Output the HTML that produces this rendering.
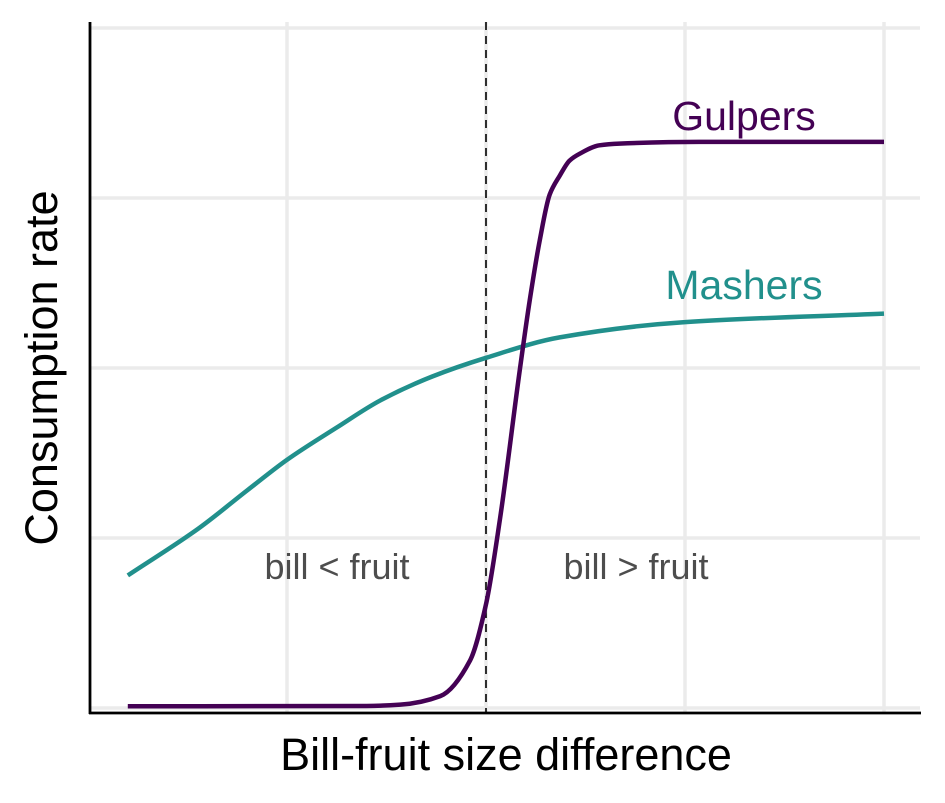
<!DOCTYPE html>
<html><head><meta charset="utf-8"><style>
body{margin:0;background:#fff}
svg{display:block;font-family:"Liberation Sans",Arial,sans-serif}
</style></head><body>
<svg id="chart" width="945" height="803" viewBox="0 0 945 803">
<g id="grid"></g>
<line x1="486" y1="22" x2="486" y2="713" stroke="#000" stroke-width="1.6" stroke-dasharray="8,6"/>
<g id="series"></g>
<line x1="90" y1="22" x2="90" y2="714" stroke="#000" stroke-width="2.8"/>
<line x1="89" y1="713" x2="921" y2="713" stroke="#000" stroke-width="2.8"/>
<text x="744" y="130" font-size="41" fill="#440154" text-anchor="middle">Gulpers</text>
<text x="744" y="299" font-size="41" fill="#21908c" text-anchor="middle">Mashers</text>
<text x="337" y="579" font-size="36" fill="#4d4d4d" text-anchor="middle">bill &lt; fruit</text>
<text x="636" y="579" font-size="36" fill="#4d4d4d" text-anchor="middle">bill &gt; fruit</text>
<text x="506" y="770" font-size="45" fill="#000" text-anchor="middle">Bill-fruit size difference</text>
<text x="0" y="0" transform="translate(57,368) rotate(-90)" font-size="45" fill="#000" text-anchor="middle">Consumption rate</text>
</svg>
<script>
const xGridTicks=[-1,0,1,2];
const yGridTicks=[0,1,2,3,4];
const gulpersX=[-1.8,-0.6,-0.43,-0.23,-0.08,0,0.07,0.17,0.22,0.27,0.32,0.37,0.42,0.47,0.57,0.67,1.07,2.0];
const gulpersY=[0.01,0.012,0.02,0.07,0.28,0.61,1.11,1.99,2.4,2.75,3.02,3.13,3.22,3.26,3.31,3.32,3.33,3.33];
const mashersX=[-1.8,-1.44,-1.2,-1,-0.75,-0.53,-0.27,0,0.37,1,2];
const mashersY=[0.78,1.06,1.28,1.46,1.65,1.81,1.95,2.06,2.18,2.27,2.32];
function sx(v){return 486+v*199;}
function sy(v){return 708-v*170;}
const NS="http://www.w3.org/2000/svg";
const grid=document.getElementById('grid');
xGridTicks.forEach(function(t){
  const l=document.createElementNS(NS,'line');
  
  
  l.setAttribute('x1',sx(t));l.setAttribute('x2',sx(t));l.setAttribute('y1',22);l.setAttribute('y2',713);
  l.setAttribute('stroke','#ebebeb');l.setAttribute('stroke-width','3.5');grid.appendChild(l);
});
yGridTicks.forEach(function(t){
  const l=document.createElementNS(NS,'line');
  
  
  l.setAttribute('x1',90);l.setAttribute('x2',920);l.setAttribute('y1',sy(t));l.setAttribute('y2',sy(t));
  l.setAttribute('stroke','#ebebeb');l.setAttribute('stroke-width','3.5');grid.appendChild(l);
});
function pathFor(xs,ys){
  const px=xs.map(sx), py=ys.map(sy), n=px.length;
  const d=[],m=new Array(n);
  for(let i=0;i<n-1;i++)d.push((py[i+1]-py[i])/(px[i+1]-px[i]));
  m[0]=d[0];m[n-1]=d[n-2];
  for(let i=1;i<n-1;i++){
    if(d[i-1]*d[i]<=0)m[i]=0;
    else{const h0=px[i]-px[i-1],h1=px[i+1]-px[i];const w1=2*h1+h0,w2=h1+2*h0;m[i]=(w1+w2)/(w1/d[i-1]+w2/d[i]);}
  }
  let s='M'+px[0]+','+py[0];
  for(let i=0;i<n-1;i++){
    const h=(px[i+1]-px[i])/3;
    s+=' C'+(px[i]+h)+','+(py[i]+m[i]*h)+' '+(px[i+1]-h)+','+(py[i+1]-m[i+1]*h)+' '+px[i+1]+','+py[i+1];
  }
  return s;
}
const series=document.getElementById('series');
const m=document.createElementNS(NS,'path');


m.setAttribute('d',pathFor(mashersX,mashersY));m.setAttribute('fill','none');m.setAttribute('stroke','#21908c');m.setAttribute('stroke-width','4.5');
series.appendChild(m);
const g=document.createElementNS(NS,'path');


g.setAttribute('d',pathFor(gulpersX,gulpersY));g.setAttribute('fill','none');g.setAttribute('stroke','#440154');g.setAttribute('stroke-width','4.5');
series.appendChild(g);
</script>
</body></html>
